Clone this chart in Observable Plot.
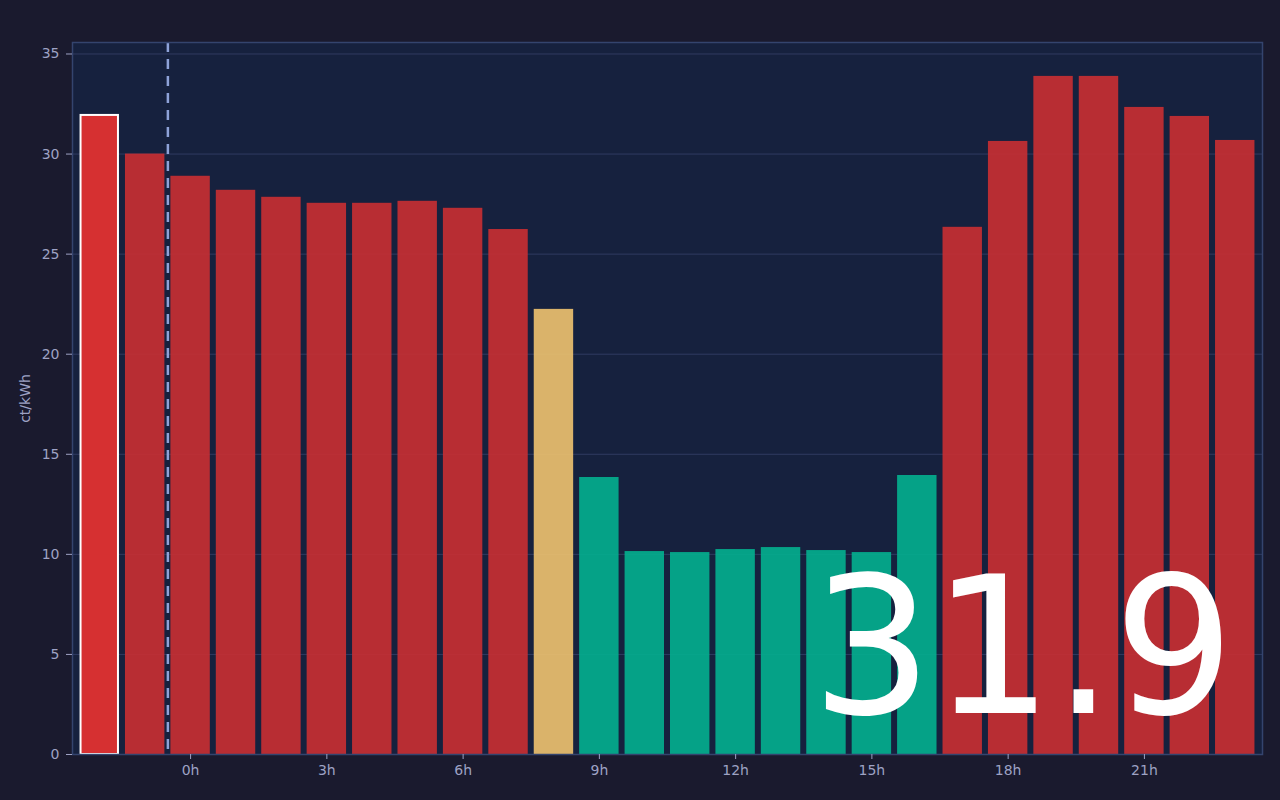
<!DOCTYPE html>
<html>
<head>
<meta charset="utf-8">
<script src="https://cdn.jsdelivr.net/npm/d3@7"></script>
<script src="https://cdn.jsdelivr.net/npm/@observablehq/plot@0.6"></script>
<style>
  html, body { margin: 0; padding: 0; background: #1a1a2e; }
  body { width: 1280px; height: 800px; overflow: hidden; font-family: "DejaVu Sans", sans-serif; }
  #chart svg { display: block; }
</style>
</head>
<body>
<div id="chart"></div>
<script>
const hours = [-2, -1, 0, 1, 2, 3, 4, 5, 6, 7, 8, 9, 10, 11, 12, 13, 14, 15, 16, 17, 18, 19, 20, 21, 22, 23];
const prices = [31.93, 30.0, 28.89, 28.19, 27.84, 27.54, 27.54, 27.64, 27.29, 26.23, 22.24, 13.84, 10.14, 10.09, 10.24, 10.34, 10.19, 10.09, 13.94, 26.34, 30.63, 33.88, 33.88, 32.33, 31.88, 30.68];
const xTicks = [0, 3, 6, 9, 12, 15, 18, 21];
const yTicks = [0, 5, 10, 15, 20, 25, 30, 35];
const currentHour = -2;
const nowMarker = -0.5;

const data = hours.map((h, i) => ({h, v: prices[i]}));
const level = v => v < 15 ? "low" : v < 25 ? "mid" : "high";
const colors = {low: "#03b08f", mid: "#efc36f", high: "#ca2f32"};
const current = data.filter(d => d.h === currentHour);
const others = data.filter(d => d.h !== currentHour);

const chart = Plot.plot({
  width: 1280,
  height: 800,
  marginLeft: 72,
  marginRight: 18,
  marginTop: 42,
  marginBottom: 46,
  style: {background: "#1a1a2e", color: "#9ea2c4", fontFamily: "DejaVu Sans, sans-serif", fontSize: "14px"},
  x: {domain: [-2.6, 23.6]},
  y: {domain: [0, d3.max(prices) * 1.05]},
  marks: [
    Plot.frame({fill: "#16213e"}),
    Plot.gridY({ticks: yTicks, stroke: "#3a4670", strokeOpacity: 0.7}),
    Plot.rectY(others, {x1: d => d.h - 0.5, x2: d => d.h + 0.5, y: "v", insetLeft: 3, insetRight: 3, fill: d => colors[level(d.v)], fillOpacity: 0.9}),
    Plot.rectY(current, {x1: d => d.h - 0.5, x2: d => d.h + 0.5, y: "v", insetLeft: 4, insetRight: 4, fill: "#d63031", stroke: "#ffffff", strokeWidth: 2}),
    Plot.ruleX([nowMarker], {stroke: "#8ea2d8", strokeWidth: 2.5, strokeDasharray: "10,7"}),
    Plot.frame({stroke: "#34446e", strokeWidth: 1.5}),
    Plot.axisX({ticks: xTicks, tickFormat: d => `${d}h`, tickSize: 5, tickPadding: 6, fontSize: 14, label: null}),
    Plot.axisY({ticks: yTicks, tickSize: 6, tickPadding: 7, fontSize: 14, label: "ct/kWh", labelAnchor: "center", labelArrow: "none", labelOffset: 52}),
    Plot.text([d3.format(".1f")(current[0].v)], {frameAnchor: "bottom-right", textAnchor: "end", dx: -28, dy: -42, fontSize: 190, fill: "#ffffff", fontFamily: "DejaVu Sans, sans-serif"})
  ]
});
document.getElementById("chart").appendChild(chart);
</script>
</body>
</html>
